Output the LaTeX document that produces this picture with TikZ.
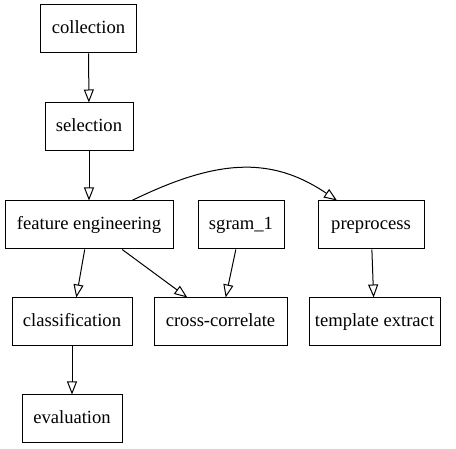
\documentclass[tikz,border=0pt]{standalone}
\usepackage{fontspec}
\setmainfont{Liberation Serif}
\usetikzlibrary{arrows.meta,calc}
\begin{document}
\begin{tikzpicture}[x=1pt,y=-1pt,
  box/.style={draw,line width=1pt,inner sep=0pt,minimum height=48pt,text height=14pt,text depth=4pt,font=\fontsize{18.6}{20}\selectfont},
  edge/.style={line width=1pt,-{Triangle[open,length=13pt,width=10pt]}}]
\useasboundingbox (0,0) rectangle (456,449);
\node[box,minimum width=96pt] (col) at (88.5,29) {collection};
\node[box,minimum width=88pt] (sel) at (89,127) {selection};
\node[box,minimum width=168pt] (fe) at (89,225) {feature engineering};
\node[box,minimum width=86pt] (sg) at (241,225) {sgram\_1};
\node[box,minimum width=106pt] (pp) at (371,225) {preprocess};
\node[box,minimum width=120pt] (cls) at (72,322) {classification};
\node[box,minimum width=133pt] (cc) at (220.5,322) {cross-correlate};
\node[box,minimum width=131pt] (te) at (374.5,322) {template extract};
\node[box,minimum width=100pt] (ev) at (72,419) {evaluation};
\draw[edge] (col) -- (sel);
\draw[edge] (sel) -- (fe);
\draw[edge] (fe) -- (cls);
\draw[edge] (fe) -- (cc);
\draw[edge] (sg) -- (cc);
\draw[edge] (pp) -- (te);
\draw[edge] (cls) -- (ev);
\draw[edge] ($(fe.north)+(43,0)$) .. controls (215,160) and (270,155) .. ($(pp.north)+(-34,0)$);
\end{tikzpicture}
\end{document}
